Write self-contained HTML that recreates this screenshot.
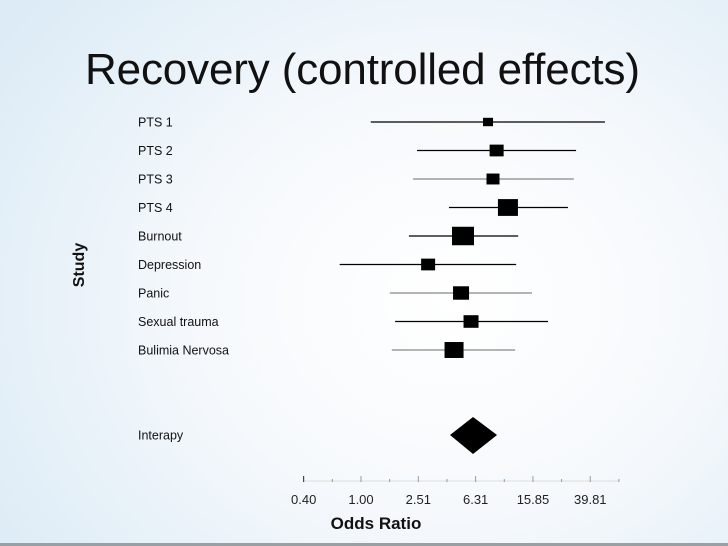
<!DOCTYPE html>
<html><head><meta charset="utf-8">
<style>
html,body{margin:0;padding:0}
body{width:728px;height:546px;overflow:hidden;position:relative;font-family:"Liberation Sans",sans-serif;
background:radial-gradient(ellipse 75% 85% at 62% 55%, #ffffff 0%, #f6f9fc 45%, #dcebf6 100%);}
#bottom-line{position:absolute;left:0;top:543px;width:728px;height:3px;background:#9a9fa4}
svg{position:absolute;left:0;top:0}
</style></head><body>
<div id="bottom-line"></div>
<svg id="chart" width="728" height="546">
<text x="85" y="84" font-size="44" fill="#111" textLength="555">Recovery (controlled effects)</text>
</svg>
<script>
const studies = ["PTS 1","PTS 2","PTS 3","PTS 4","Burnout","Depression","Panic","Sexual trauma","Bulimia Nervosa"];
const oddsRatio = [7.7, 8.84, 8.34, 10.6, 5.15, 2.94, 4.99, 5.86, 4.46];
const lowerCI = [1.17, 2.46, 2.31, 4.11, 2.16, 0.71, 1.59, 1.73, 1.64];
const upperCI = [50.4, 31.7, 30.6, 27.8, 12.5, 12.1, 15.6, 20.2, 11.9];
const weights = [10, 14, 13, 20, 22, 14, 16, 15, 19];
const grayLines = [false,false,true,false,false,false,true,false,true];
const pooledLabel = "Interapy";
const pooled = [6.05, 4.18, 8.9];
const tickLabels = ["0.40","1.00","2.51","6.31","15.85","39.81"];
const tickValues = [0.398, 1, 2.512, 6.31, 15.85, 39.81];

const NS="http://www.w3.org/2000/svg";
const svg=document.getElementById('chart');
function xs(v){return 361+Math.log10(v)*143.3;}
function ys(i){return 122+i*28.5;}
function mk(tag,attrs){const e=document.createElementNS(NS,tag);for(const k in attrs)e.setAttribute(k,attrs[k]);svg.appendChild(e);return e;}

studies.forEach((s,i)=>{
  const y=ys(i);
  const t=mk('text',{x:138,y:y+4.5,'font-size':12.5,fill:'#111'});
  t.textContent=s;
  
  
  const l=mk('line',{x1:xs(lowerCI[i]),x2:xs(upperCI[i]),y1:y,y2:y,stroke:grayLines[i]?'#888':'#000','stroke-width':1.2});
  
  
  const w=weights[i];
  const r=mk('rect',{x:xs(oddsRatio[i])-w/2,y:y-w*0.42,width:w,height:w*0.84,fill:'#000'});
  
  
});
const py=435;
const pt=mk('text',{x:138,y:py+4.5,'font-size':12.5,fill:'#111'});
pt.textContent=pooledLabel;


const dm=mk('polygon',{points:`${xs(pooled[1])},${py} ${xs(pooled[0])},${py-18} ${xs(pooled[2])},${py} ${xs(pooled[0])},${py+19}`,fill:'#000'});



const ax=mk('line',{x1:xs(0.398),x2:xs(0.398*Math.pow(10,2.2)),y1:481,y2:481,stroke:'#ddd','stroke-width':1});


for(let k=0;k<=11;k++){
  const x=xs(0.398*Math.pow(10,k*0.2));
  const tk=mk('line',{x1:x,x2:x,y1:k%2?479:476,y2:482,stroke:k===0?'#222':'#999','stroke-width':1});
  
  
}
tickLabels.forEach((lab,i)=>{
  const t=mk('text',{x:xs(tickValues[i]),y:504,'font-size':13,fill:'#222','text-anchor':'middle'});
  t.textContent=lab;
  
  
});
const xt=mk('text',{x:376,y:529,'font-size':17,'font-weight':'bold',fill:'#111','text-anchor':'middle'});
xt.textContent="Odds Ratio";


const yt=mk('text',{x:0,y:0,'font-size':16,'font-weight':'bold',fill:'#111','text-anchor':'middle',transform:'translate(84,265) rotate(-90)'});
yt.textContent="Study";


</script>
</body></html>
